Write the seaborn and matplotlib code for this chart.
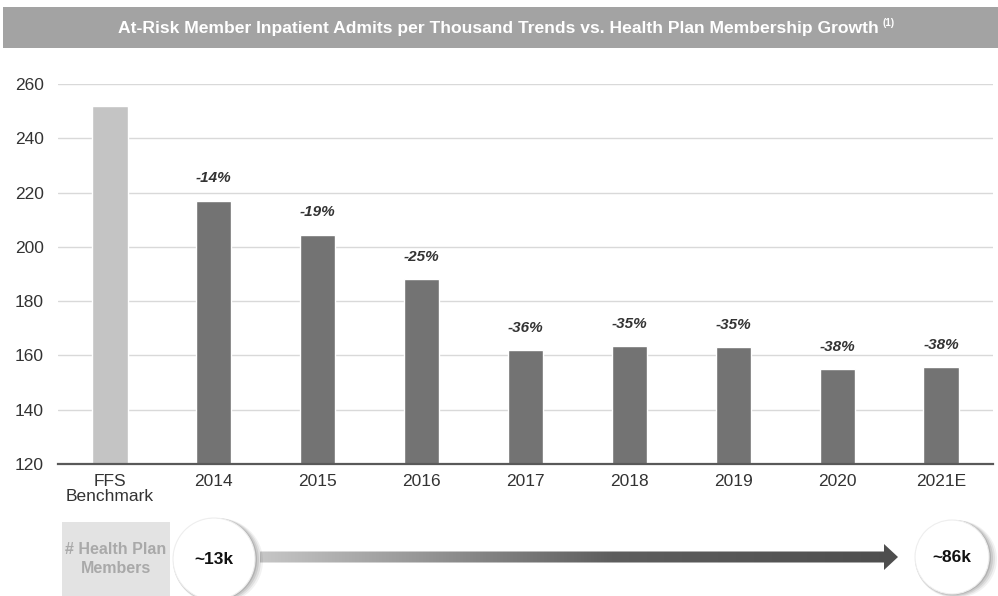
import matplotlib
matplotlib.use("Agg")
import matplotlib.pyplot as plt
import seaborn as sns
import numpy as np
import pandas as pd
from matplotlib.patches import Rectangle, Ellipse, Polygon
from matplotlib.colors import LinearSegmentedColormap

categories = ["FFS\nBenchmark", "2014", "2015", "2016", "2017", "2018", "2019", "2020", "2021E"]
admits = [252, 217, 204.5, 188, 162, 163.5, 163.2, 155, 155.8]
pct_labels = ["", "-14%", "-19%", "-25%", "-36%", "-35%", "-35%", "-38%", "-38%"]
bar_colors = ["#c4c4c4"] + ["#737373"] * 8
y_ticks = [120, 140, 160, 180, 200, 220, 240, 260]
members_start = "~13k"
members_end = "~86k"
members_label = "# Health Plan\nMembers"
title = "At-Risk Member Inpatient Admits per Thousand Trends vs. Health Plan Membership Growth"

sns.set_theme(style="white")
plt.rcParams['font.family'] = ['Liberation Sans', 'DejaVu Sans']

W, H = 998, 596
fig = plt.figure(figsize=(W / 100, H / 100), dpi=100)
fig.patch.set_facecolor("white")

ax = fig.add_axes([58 / W, (H - 464) / H, (993 - 58) / W, (464 - 84) / H])
df = pd.DataFrame({"cat": categories, "val": admits})
sns.barplot(data=df, x="cat", y="val", hue="cat", palette=bar_colors, legend=False,
            width=0.34, ax=ax, saturation=1, zorder=3)
ax.set_ylim(120, 260)
ax.set_xlim(-0.5, len(categories) - 0.5)
ax.set_yticks(y_ticks)
ax.yaxis.grid(True, color="#d9d9d9", linewidth=1.0, zorder=0)
ax.set_axisbelow(True)
for s in ["top", "right", "left"]:
    ax.spines[s].set_visible(False)
ax.spines["bottom"].set_color("#595959")
ax.spines["bottom"].set_linewidth(1.6)
ax.spines["bottom"].set_zorder(4)
ax.set_xlabel("")
ax.set_ylabel("")
ax.tick_params(axis="y", length=0, pad=10, labelsize=12.5, labelcolor="#333333")
ax.tick_params(axis="x", length=0, pad=7, labelsize=12.5, labelcolor="#333333")
for lbl in ax.get_xticklabels():
    lbl.set_linespacing(1.0)

for i, (v, p) in enumerate(zip(admits, pct_labels)):
    if p:
        ax.annotate(p, (i, v), xytext=(0, 16), textcoords="offset points",
                    ha="center", va="center", fontsize=11, fontweight="bold",
                    fontstyle="italic", color="#333333")

# overlay axes in pixel coordinates
ov = fig.add_axes([0, 0, 1, 1], zorder=5)
ov.set_xlim(0, W)
ov.set_ylim(H, 0)
ov.axis("off")
ov.patch.set_visible(False)

# title band
ov.add_patch(Rectangle((3, 7), W - 3, 41, facecolor="#a3a3a3", edgecolor="none"))
t = ov.text(498, 28, title, ha="center", va="center", color="white",
            fontsize=12.6, fontweight="bold")
fig.canvas.draw()
bb = t.get_window_extent()
x_end = bb.x1  # display pixels == data pixels here
ov.text(x_end + 4, 23, "(1)", ha="left", va="center", color="white", fontsize=7, fontweight="bold")

# members box
ov.add_patch(Rectangle((62, 522), 108, 74, facecolor="#e3e3e3", edgecolor="none"))
ov.text(116, 559, members_label, ha="center", va="center", color="#a9a9a9",
        fontsize=11.5, fontweight="bold", linespacing=1.35)

# circles with shadow
def bubble(cx, cy, r, txt):
    for k, a in enumerate([0.05, 0.07, 0.09, 0.12]):
        off = 4 - k
        ov.add_patch(Ellipse((cx + off, cy + off * 0.5), 2 * r + 2 * off, 2 * r + off,
                             facecolor="#000000", alpha=a, edgecolor="none"))
    ov.add_patch(Ellipse((cx, cy), 2 * r, 2 * r, facecolor="white", edgecolor="#eeeeee", lw=0.8))
    ov.text(cx, cy, txt, ha="center", va="center", color="#111111",
            fontsize=12.5, fontweight="bold")

bubble(214, 559, 41, members_start)
bubble(952, 557, 37, members_end)

# gradient arrow
x0, x1, xh = 260, 898, 884
yc = 557
arrow = Polygon([(x0, yc - 5.5), (xh, yc - 5.5), (xh, yc - 13), (x1, yc), (xh, yc + 13),
                 (xh, yc + 5.5), (x0, yc + 5.5)], closed=True, facecolor="none", edgecolor="none")
ov.add_patch(arrow)
cmap = LinearSegmentedColormap.from_list("g", [(0, "#c6c6c6"), (0.55, "#5e5e5e"), (1, "#4e4e4e")])
grad = np.linspace(0, 1, 256).reshape(1, -1)
im = ov.imshow(grad, cmap=cmap, extent=(x0, x1, yc + 13, yc - 13), aspect="auto",
               interpolation="bilinear")
im.set_clip_path(arrow)
ov.set_xlim(0, W)
ov.set_ylim(H, 0)

fig.savefig("out.png", dpi=100)
